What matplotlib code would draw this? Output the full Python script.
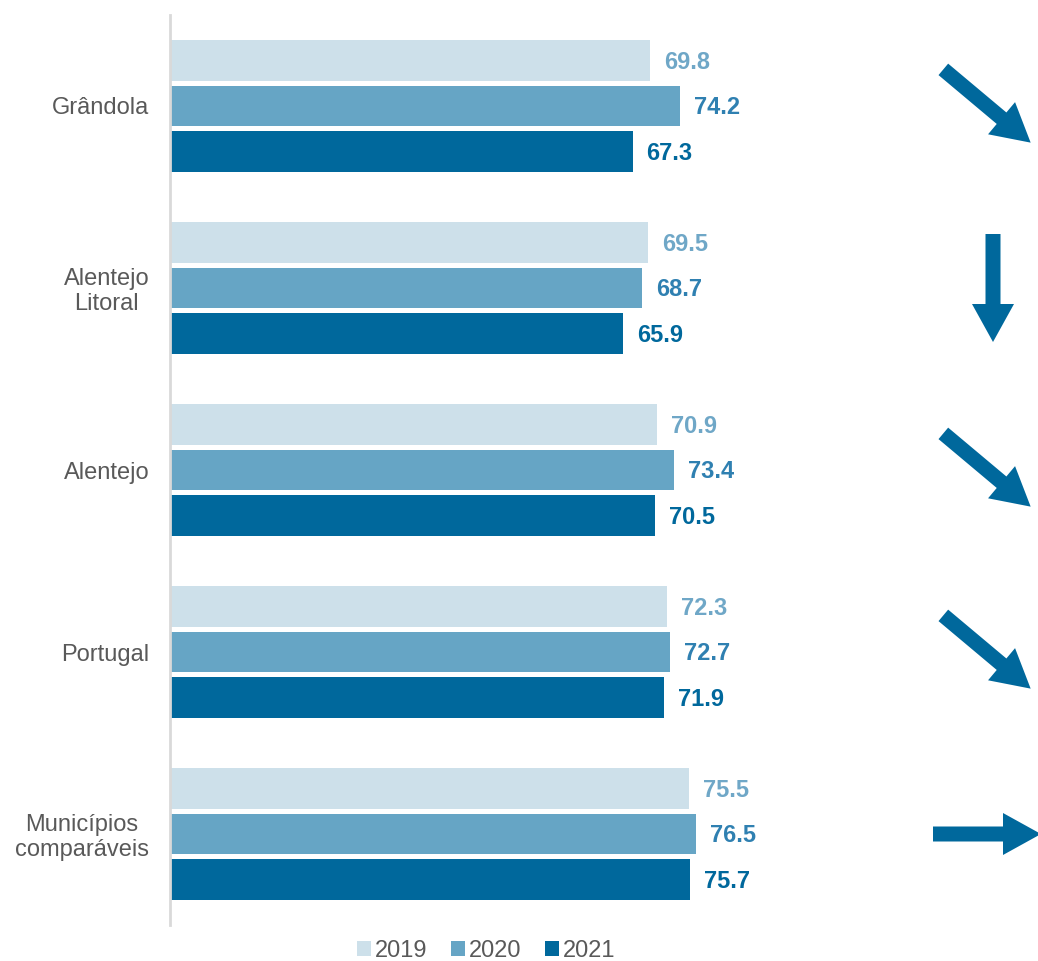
import matplotlib
matplotlib.use("Agg")
import matplotlib.pyplot as plt
from matplotlib.patches import FancyArrow
import numpy as np

plt.rcParams['font.family'] = ['Liberation Sans', 'DejaVu Sans']

categories = ["Grândola", "Alentejo\nLitoral", "Alentejo", "Portugal", "Municípios\ncomparáveis"]
years = ["2019", "2020", "2021"]
v2019 = [69.8, 69.5, 70.9, 72.3, 75.5]
v2020 = [74.2, 68.7, 73.4, 72.7, 76.5]
v2021 = [67.3, 65.9, 70.5, 71.9, 75.7]
trend_angles = [-40, -90, -40, -40, 0]  # arrow direction in degrees

bar_colors = ["#CDE0EA", "#66A5C5", "#00689C"]
label_colors = ["#6FA7C7", "#2F80B1", "#00689C"]
gray = "#595959"

W, H = 1038, 961
fig = plt.figure(figsize=(W / 100, H / 100), dpi=100)
ax = fig.add_axes([170 / W, 1 - 925 / H, 868 / W, 910 / H])

series = [v2019, v2020, v2021]
offsets = [-0.25, 0.0, 0.248]
bh = 0.225
y = np.arange(len(categories))
for s, vals in enumerate(series):
    ax.barh(y + offsets[s], vals, height=bh, color=bar_colors[s], label=years[s])
    for yi, v in zip(y, vals):
        ax.annotate(f"{v:.1f}", (v, yi + offsets[s]), xytext=(14, -2), textcoords="offset pixels",
                    ha="left", va="center", fontsize=17, fontweight="bold", color=label_colors[s])

ax.set_xlim(0, 126.3)
ax.set_ylim(len(categories) - 0.5, -0.5)
ax.set_yticks(y)
ax.set_yticklabels(categories, fontsize=17, color=gray, linespacing=1.12, multialignment="center")
ax.tick_params(axis="y", length=0, pad=15)
ax.set_xticks([])
for sp in ["top", "right", "bottom"]:
    ax.spines[sp].set_visible(False)
ax.spines["left"].set_color("#D9D9D9")
ax.spines["left"].set_linewidth(2)

# overlay for trend arrows, in pixel space
ov = fig.add_axes([0, 0, 1, 1])
ov.set_xlim(0, W)
ov.set_ylim(H, 0)
ov.axis("off")
fig.canvas.draw()
for i, ang in enumerate(trend_angles):
    _, py = ax.transData.transform((0, y[i]))
    cy = H - py
    cx = 993 if ang == -90 else 987
    L = 114 if ang % 90 else 108
    a = np.deg2rad(ang)
    dx, dy = L * np.cos(a), -L * np.sin(a)
    ov.add_patch(FancyArrow(cx - dx / 2, cy - dy / 2, dx, dy, width=15, head_width=42,
                            head_length=38, length_includes_head=True,
                            color="#00689C", lw=0))

leg = fig.legend(loc="center", bbox_to_anchor=(486 / W, 1 - 951 / H), ncol=3, frameon=False,
                 fontsize=17, handlelength=0.6, handleheight=0.6, handletextpad=0.15,
                 columnspacing=1.0, labelcolor=gray)

fig.savefig("out.png", dpi=100)
